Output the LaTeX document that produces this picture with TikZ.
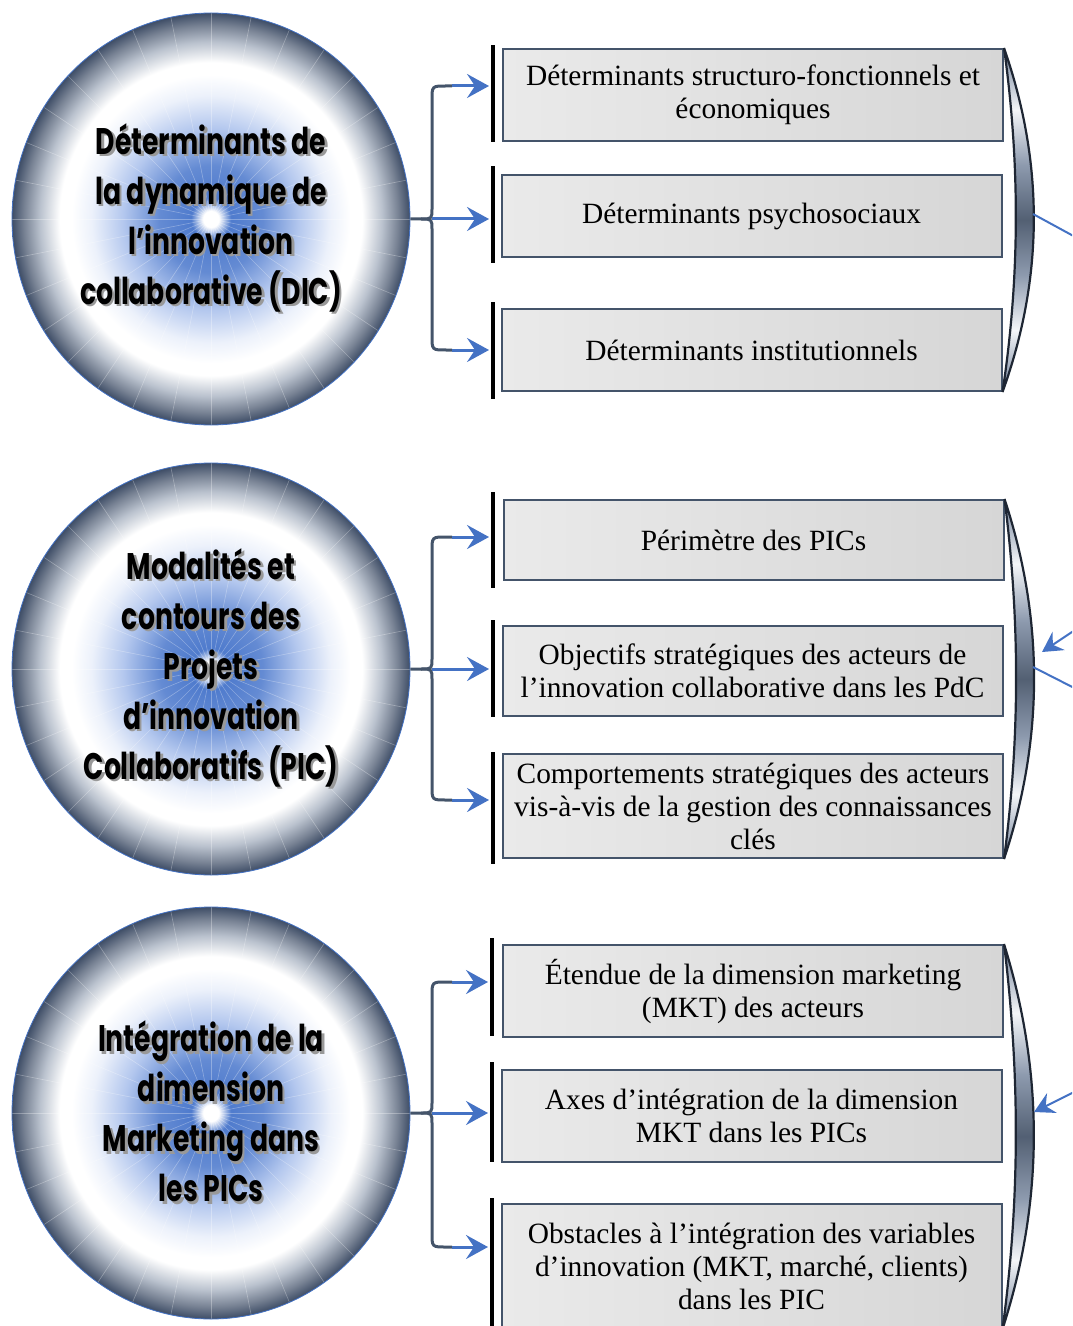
\documentclass[tikz,border=0pt]{standalone}
\usepackage{fontspec}
\setmainfont{Liberation Serif}
\newfontfamily\orbfont[FakeStretch=0.72]{Poppins}
\usetikzlibrary{arrows.meta, shapes.geometric}
\definecolor{accent}{HTML}{4472C4}
\definecolor{slate}{HTML}{44546A}
\definecolor{orbblue}{HTML}{4F7BCD}
\definecolor{orbsoft}{HTML}{B3C7EE}
\definecolor{orbgrey}{HTML}{BAC2CE}
\definecolor{orbdark}{HTML}{3E4D66}
\definecolor{cardleft}{HTML}{EAEAEA}
\definecolor{cardright}{HTML}{D6D6D6}
\definecolor{metaldark}{HTML}{3A475A}
\definecolor{metalmid}{HTML}{8D9AAE}
\definecolor{metallight}{HTML}{F4F6F9}
\definecolor{rimline}{HTML}{1E2633}
\pgfdeclareradialshading{orbshade}{\pgfpoint{0bp}{0bp}}{color(0bp)=(white); color(1bp)=(white); color(2.5bp)=(orbblue); color(6.5bp)=(orbblue!88!white); color(11bp)=(orbsoft); color(15bp)=(orbsoft!25!white); color(17.5bp)=(white); color(19bp)=(white); color(21.5bp)=(orbgrey); color(23.5bp)=(orbdark!70!white); color(25bp)=(orbdark); color(50bp)=(orbdark)}
\pgfdeclareverticalshading{metalshade}{100bp}{color(0bp)=(metaldark); color(25bp)=(metaldark); color(27bp)=(metalmid); color(34bp)=(metallight); color(42bp)=(metalmid); color(50bp)=(metaldark!70!metalmid); color(58bp)=(metalmid); color(66bp)=(metallight); color(73bp)=(metalmid); color(75bp)=(metaldark); color(100bp)=(metaldark)}
\newcommand\shd[1]{\leavevmode\rlap{\kern1.3pt\raisebox{-1.3pt}{\color{black!40}#1}}#1}
\tikzset{
  orb/.style={ellipse, minimum width=199pt, minimum height=206pt, inner sep=0pt, shade, shading=orbshade, draw=accent, line width=0.4pt, align=center, font=\orbfont\bfseries\fontsize{18.5}{25}\selectfont,
    path picture={\foreach \a in {0,11.25,...,348.75} \draw[white, opacity=0.3, line width=0.3pt] (path picture bounding box.center) -- ++(\a:230);}},
  card/.style={rectangle, draw=slate, line width=1pt, left color=cardleft, right color=cardright, minimum width=250pt, inner sep=2pt, align=center, font=\fontsize{14.7}{16.5}\selectfont},
  bar/.style={rectangle, fill=black, minimum width=1.6pt, inner sep=0pt},
  brace/.style={draw=slate, line width=1.5pt, line join=round},
  flow/.style={-{Stealth[length=11pt, width=12pt, inset=4pt]}, draw=accent, line width=1.5pt, shorten >=1pt},
  rim/.style={draw=rimline, line width=1.1pt, shade, shading=metalshade},
  link/.style={draw=accent, line width=1pt},
  linkin/.style={link, -{Stealth[length=10pt, width=11pt, inset=3.5pt]}}
}

\begin{document}
\begin{tikzpicture}[x=0.5pt, y=-0.5pt]
\useasboundingbox (0,0) rectangle (1072,1326);
\clip (0,0) rectangle (1072,1326);

% circles
\node[orb] (c1) at (211,219) {\shd{Déterminants de}\\\shd{la dynamique de}\\\shd{l’innovation}\\\shd{collaborative (DIC)}};
\node[orb] (c2) at (211,669) {\shd{Modalités et}\\\shd{contours des}\\\shd{Projets}\\\shd{d’innovation}\\\shd{Collaboratifs (PIC)}};
\node[orb] (c3) at (211,1113) {\shd{Intégration de la}\\\shd{dimension}\\\shd{Marketing dans}\\\shd{les PICs}};

% boxes
\node[card, minimum height=46pt] (b11) at (753,95) {Déterminants structuro-fonctionnels et\\économiques};
\node[card, minimum height=41pt] (b12) at (751.5,216) {Déterminants psychosociaux};
\node[card, minimum height=41pt] (b13) at (751.5,350) {Déterminants institutionnels};

\node[card, minimum height=40pt] (b21) at (753.5,540) {Périmètre des PICs};
\node[card, minimum height=45pt] (b22) at (752.5,671) {Objectifs stratégiques des acteurs de\\l’innovation collaborative dans les PdC};
\node[card, minimum height=52pt] (b23) at (753,806) {Comportements stratégiques des acteurs\\vis-à-vis de la gestion des connaissances\\clés};

\node[card, minimum height=46pt] (b31) at (753,991) {Étendue de la dimension marketing\\(MKT) des acteurs};
\node[card, minimum height=46pt] (b32) at (751.5,1116) {Axes d’intégration de la dimension\\MKT dans les PICs};
\node[card, minimum height=62pt] (b33) at (751.5,1266) {Obstacles à l’intégration des variables\\d’innovation (MKT, marché, clients)\\dans les PIC};

% black bars
\node[bar, minimum height=48.5pt] (v11) at (493,93.5) {};
\node[bar, minimum height=48.5pt] (v12) at (493,214.5) {};
\node[bar, minimum height=48.5pt] (v13) at (493,350.5) {};
\node[bar, minimum height=48pt] (v21) at (493,540) {};
\node[bar, minimum height=48.5pt] (v22) at (493,668.5) {};
\node[bar, minimum height=56pt] (v23) at (493,808) {};
\node[bar, minimum height=49pt] (v31) at (492,987) {};
\node[bar, minimum height=50pt] (v32) at (492,1112) {};
\node[bar, minimum height=71pt] (v33) at (492,1269) {};

% braces
\coordinate (k11) at (452,86);
\coordinate (k12) at (432,219);
\coordinate (k13) at (452,350);
\draw[brace] (c1.east) -- (421,219) .. controls (432,219) .. (432,208) -- (432,100) .. controls (432,86) .. (446,86) -- (k11);
\draw[brace] (421,219) .. controls (432,219) .. (432,230) -- (432,336) .. controls (432,350) .. (446,350) -- (k13);

\coordinate (k21) at (452,537);
\coordinate (k22) at (432,669);
\coordinate (k23) at (452,800);
\draw[brace] (c2.east) -- (421,669) .. controls (432,669) .. (432,658) -- (432,551) .. controls (432,537) .. (446,537) -- (k21);
\draw[brace] (421,669) .. controls (432,669) .. (432,680) -- (432,786) .. controls (432,800) .. (446,800) -- (k23);

\coordinate (k31) at (452,982);
\coordinate (k32) at (432,1113);
\coordinate (k33) at (452,1247);
\draw[brace] (c3.east) -- (421,1113) .. controls (432,1113) .. (432,1102) -- (432,996) .. controls (432,982) .. (446,982) -- (k31);
\draw[brace] (421,1113) .. controls (432,1113) .. (432,1124) -- (432,1233) .. controls (432,1247) .. (446,1247) -- (k33);

% arrows to the boxes
\draw[flow] (k11) -- (k11 -| v11.west);
\draw[flow] (k12) -- (k12 -| v12.west);
\draw[flow] (k13) -- (k13 -| v13.west);
\draw[flow] (k21) -- (k21 -| v21.west);
\draw[flow] (k22) -- (k22 -| v22.west);
\draw[flow] (k23) -- (k23 -| v23.west);
\draw[flow] (k31) -- (k31 -| v31.west);
\draw[flow] (k32) -- (k32 -| v32.west);
\draw[flow] (k33) -- (k33 -| v33.west);

% metal rims
\draw[rim] (b11.north east) .. controls (1044,163) and (1044,277) .. (b13.south east) .. controls (1020,277) and (1020,163) .. (b11.north east) -- cycle;
\draw[rim] (b21.north east) .. controls (1044,619) and (1044,739) .. (b23.south east) .. controls (1020,739) and (1020,619) .. (b21.north east) -- cycle;
\draw[rim] (b31.north east) .. controls (1044,1073) and (1044,1201) .. (b33.south east) .. controls (1020,1201) and (1020,1073) .. (b31.north east) -- cycle;

% links leaving the picture
\coordinate (o1) at (1033,214);
\coordinate (e1) at (1090,245);
\draw[link] (o1) -- (e1);
\coordinate (e2) at (1090,620);
\coordinate (i2) at (1042,652);
\draw[linkin] (e2) -- (i2);
\coordinate (o2) at (1033,667);
\coordinate (f2) at (1090,696);
\draw[link] (o2) -- (f2);
\coordinate (e3) at (1090,1084);
\coordinate (i3) at (1034,1112);
\draw[linkin] (e3) -- (i3);

\end{tikzpicture}
\end{document}
